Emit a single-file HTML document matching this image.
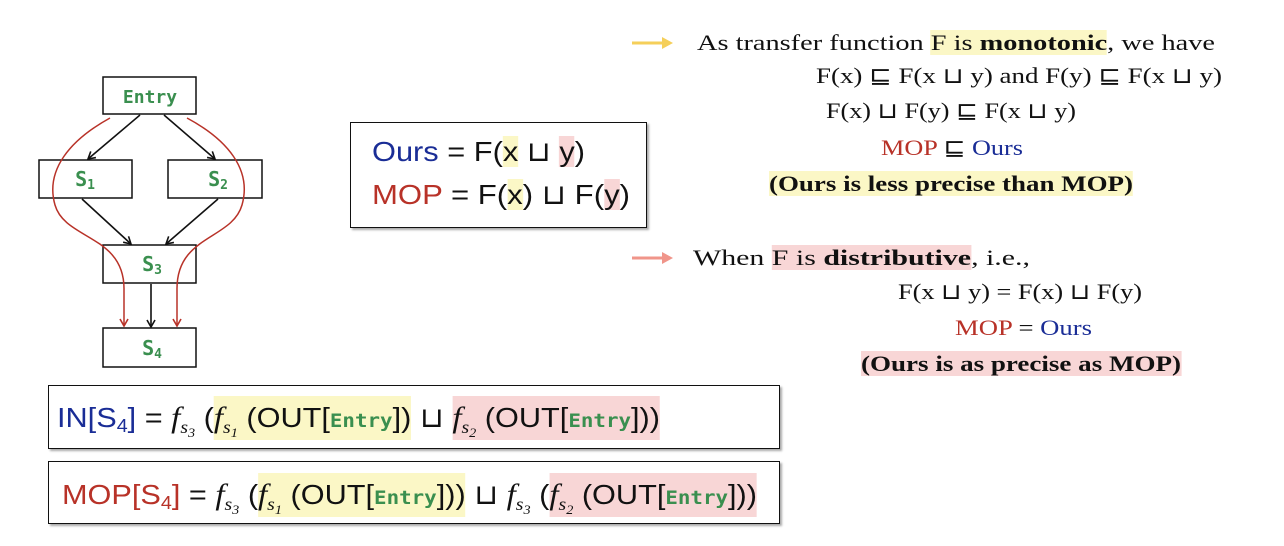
<!DOCTYPE html>
<html><head><meta charset="utf-8"><style>
html,body{margin:0;padding:0;background:#fff;width:1284px;height:546px;overflow:hidden;position:relative}
svg{display:block;position:absolute;left:0;top:0}
.m{font-family:"DejaVu Sans Mono","Liberation Mono",monospace;font-weight:bold;fill:#3a8f4f}
.ln{position:absolute;white-space:nowrap;transform-origin:0 50%}
.tm{font-family:"Liberation Serif",serif;font-size:22px;height:28px;line-height:28px;color:#111}
.sa{font-family:"Liberation Sans",sans-serif;font-size:28px;height:44px;line-height:44px;color:#111}
.hy{background:#fbf7c6}.hp{background:#f8d6d6}
.eq .hy,.eq .hp{padding:6px 0 7px 0}
.bl{color:#1a2d96}.rd{color:#b83228}
.en{font-family:"DejaVu Sans Mono","Liberation Mono",monospace;font-weight:bold;color:#3a8f4f;font-size:19px}
.f{font-family:"Liberation Serif",serif;font-style:italic;font-size:30px}
.f sub{font-size:18px;vertical-align:-6px;line-height:0}
.f sub sub{font-size:13px;vertical-align:-4px}
.s4{font-size:18px;vertical-align:-5px;line-height:0}
.box{position:absolute;background:#fff;border:1.6px solid #111;box-shadow:2px 2px 2px #aaa;box-sizing:border-box}
</style></head><body>
<svg width="1284" height="546" viewBox="0 0 1284 546">
<defs>
<marker id="ab" markerWidth="10" markerHeight="10" refX="8" refY="5" orient="auto" markerUnits="userSpaceOnUse"><path d="M1,1 L8,5 L1,9" fill="none" stroke="#111" stroke-width="1.6"/></marker>
<marker id="ar" markerWidth="10" markerHeight="10" refX="8" refY="5" orient="auto" markerUnits="userSpaceOnUse"><path d="M1,1 L8,5 L1,9" fill="none" stroke="#b83228" stroke-width="1.6"/></marker>
</defs>
<g><rect x="103" y="77" width="93" height="37" fill="#fff" stroke="#111" stroke-width="1.5"/><text x="150" y="103" text-anchor="middle" class="m" font-size="18">Entry</text></g>
<g><rect x="39" y="160" width="93" height="38" fill="#fff" stroke="#111" stroke-width="1.5"/><text x="85" y="186" text-anchor="middle" class="m" font-size="20">S<tspan font-size="13" dy="3">1</tspan></text></g>
<g><rect x="168" y="160" width="94" height="38" fill="#fff" stroke="#111" stroke-width="1.5"/><text x="218" y="186" text-anchor="middle" class="m" font-size="20">S<tspan font-size="13" dy="3">2</tspan></text></g>
<g><rect x="103" y="245" width="93" height="38" fill="#fff" stroke="#111" stroke-width="1.5"/><text x="152" y="271" text-anchor="middle" class="m" font-size="20">S<tspan font-size="13" dy="3">3</tspan></text></g>
<g><rect x="103" y="328" width="93" height="39" fill="#fff" stroke="#111" stroke-width="1.5"/><text x="152" y="355" text-anchor="middle" class="m" font-size="20">S<tspan font-size="13" dy="3">4</tspan></text></g>
<g stroke="#111" stroke-width="1.6" fill="none">
<line x1="140" y1="115" x2="88" y2="159" marker-end="url(#ab)"/>
<line x1="164" y1="115" x2="215" y2="159" marker-end="url(#ab)"/>
<line x1="82" y1="199" x2="131" y2="244" marker-end="url(#ab)"/>
<line x1="218" y1="199" x2="166" y2="244" marker-end="url(#ab)"/>
<line x1="151" y1="284" x2="151" y2="327" marker-end="url(#ab)"/>
</g>
<g stroke="#b83228" stroke-width="1.5" fill="none">
<path d="M110,118 C70,140 45,170 55,205 C65,240 125,235 124,290 L124,326" marker-end="url(#ar)"/>
<path d="M187,118 C228,140 252,170 242,205 C232,240 176,235 177,290 L177,326" marker-end="url(#ar)"/>
</g>
<g><line x1="632" y1="43" x2="664" y2="43" stroke="#f5cf5a" stroke-width="3"/><path d="M662,37 L673,43 L662,49 Z" fill="#f5cf5a"/></g>
<g><line x1="632" y1="258" x2="664" y2="258" stroke="#f0958a" stroke-width="3"/><path d="M662,252 L673,258 L662,264 Z" fill="#f0958a"/></g>
</svg>

<div class="box" style="left:350px;top:122px;width:297px;height:106px"></div>
<div class="ln sa" data-w="213" style="left:372px;top:130px"><span class="bl">Ours</span> = F(<span class="hy">x</span> ⊔ <span class="hp">y</span>)</div>
<div class="ln sa" data-w="258" style="left:372px;top:173px"><span class="rd">MOP</span> = F(<span class="hy">x</span>) ⊔ F(<span class="hp">y</span>)</div>

<div class="box" style="left:48px;top:385px;width:732px;height:64px"></div>
<div class="ln sa eq" data-w="603" style="left:57px;top:396px"><span class="bl">IN[S<span class="s4">4</span>]</span> = <span class="f">f<sub>s<sub>3</sub></sub></span> (<span class="hy"><span class="f">f<sub>s<sub>1</sub></sub></span> (OUT[<span class="en">Entry</span>])</span> ⊔ <span class="hp"><span class="f">f<sub>s<sub>2</sub></sub></span> (OUT[<span class="en">Entry</span>]))</span></div>

<div class="box" style="left:48px;top:461px;width:732px;height:63px"></div>
<div class="ln sa eq" data-w="695" style="left:62px;top:473px"><span class="rd">MOP[S<span class="s4">4</span>]</span> = <span class="f">f<sub>s<sub>3</sub></sub></span> (<span class="hy"><span class="f">f<sub>s<sub>1</sub></sub></span> (OUT[<span class="en">Entry</span>]))</span> ⊔ <span class="f">f<sub>s<sub>3</sub></sub></span> (<span class="hp"><span class="f">f<sub>s<sub>2</sub></sub></span> (OUT[<span class="en">Entry</span>]))</span></div>

<div class="ln tm" data-w="518" style="left:697px;top:29px">As transfer function <span class="hy">F is <b>monotonic</b></span>, we have</div>
<div class="ln tm" data-w="406" style="left:816px;top:62px">F(x) ⊑ F(x ⊔ y) and F(y) ⊑ F(x ⊔ y)</div>
<div class="ln tm" data-w="250" style="left:826px;top:97px">F(x) ⊔ F(y) ⊑ F(x ⊔ y)</div>
<div class="ln tm" data-w="142" style="left:881px;top:134px"><span class="rd">MOP</span> ⊑ <span class="bl">Ours</span></div>
<div class="ln tm" data-w="364" style="left:769px;top:170px"><b class="hy">(Ours is less precise than MOP)</b></div>

<div class="ln tm" data-w="337" style="left:693px;top:244px">When <span class="hp">F is <b>distributive</b></span>, i.e.,</div>
<div class="ln tm" data-w="244" style="left:898px;top:278px">F(x ⊔ y) = F(x) ⊔ F(y)</div>
<div class="ln tm" data-w="137" style="left:955px;top:314px"><span class="rd">MOP</span> = <span class="bl">Ours</span></div>
<div class="ln tm" data-w="320" style="left:861px;top:350px"><b class="hp">(Ours is as precise as MOP)</b></div>

<script>
document.querySelectorAll('.ln').forEach(function(el){
  var w=parseFloat(el.getAttribute('data-w'));
  var cw=el.getBoundingClientRect().width;
  if(cw>0) el.style.transform='scaleX('+(w/cw)+')';
});
</script>
</body></html>
